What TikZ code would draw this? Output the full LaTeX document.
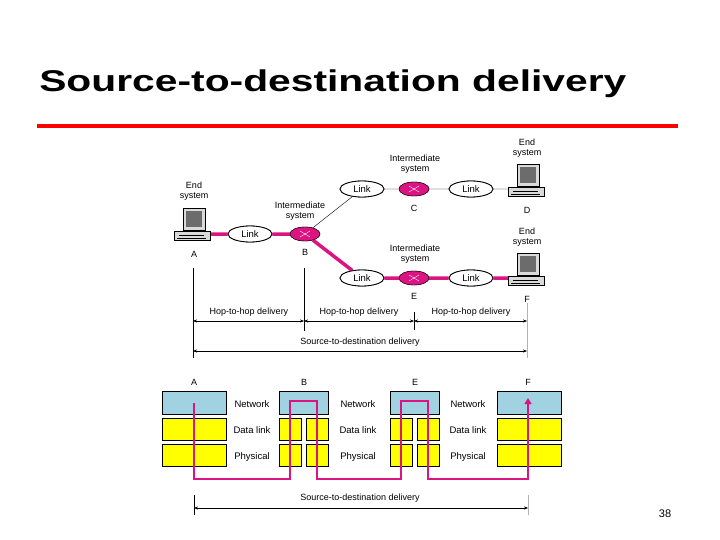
\documentclass[tikz,border=0pt]{standalone}
\usepackage{fontspec}
\setmainfont{Liberation Sans}
\usetikzlibrary{shapes.geometric,arrows.meta}
\definecolor{mag}{RGB}{220,20,130}
\definecolor{lblue}{RGB}{160,210,225}
\definecolor{yel}{RGB}{255,255,0}
\begin{document}
\begin{tikzpicture}[x=1pt,y=-1pt,
 lbl/.style={font=\fontsize{9}{10}\selectfont,align=center,inner sep=0pt},
 linkel/.style={ellipse,draw,thick,fill=white,minimum width=44,minimum height=16,inner sep=0pt,font=\fontsize{9.5}{10}\selectfont},
 router/.style={ellipse,draw,fill=mag,minimum width=30,minimum height=14,inner sep=0pt},
 thickm/.style={mag,line width=3.5pt},
 thinb/.style={black,thin},
 net/.style={draw,fill=lblue,inner sep=0pt},
 lay/.style={draw,fill=yel,inner sep=0pt},
 dim/.style={{Stealth[length=4pt]}-{Stealth[length=4pt]},thin},
 path/.style={mag,line width=2.2pt}]
\useasboundingbox (0,0) rectangle (720,540);
% title
\node[anchor=west,font=\bfseries\fontsize{30}{32}\selectfont,inner sep=0pt,xscale=1.36] (title) at (39,84) {Source-to-destination delivery};
\draw[red,line width=4.5pt] (37,126) -- (678,126);
\node[font=\fontsize{11}{12}\selectfont] (pg) at (665,514) {38};
\coordinate (A) at (205,234); \coordinate (D) at (520,189); \coordinate (F) at (520,278);
% links
\node[linkel] (L1) at (250,234) {Link};
\node[linkel] (L2) at (362,189) {Link};
\node[linkel] (L3) at (471,189) {Link};
\node[linkel] (L4) at (362,278) {Link};
\node[linkel] (L5) at (471,278) {Link};
\node[router] (B) at (305,234) {};
\node[router] (C) at (414,189) {};
\node[router] (E) at (414,278) {};
\draw[thickm] (A) -- (L1) -- (B) -- (L4) -- (E) -- (L5) -- (F);
\draw[thinb] (B) -- (L2) -- (C) -- (L3) -- (D);
\foreach \p/\n in {{(305,234)}/B,{(414,189)}/C,{(414,278)}/E}{\node[router] at \p {};\draw[white,thin] \p ++(-5,-3) -- ++(10,6) \p ++(-5,3) -- ++(10,-6);}
\node[linkel] at (250,234) {Link};\node[linkel] at (362,278) {Link};\node[linkel] at (471,278) {Link};
\node[linkel] at (362,189) {Link};\node[linkel] at (471,189) {Link};
% computers
\foreach \x/\y in {194/222,528/178,528/267}{
 \begin{scope}[shift={(\x,\y)}]
 \fill[gray!30,draw=black,thin] (-11,-14) rectangle (11,8);
 \fill[gray!85!black] (-8,-11) rectangle (8,5);
 \fill[gray!30,draw=black,thin] (-20,9) rectangle (16,18);
 \draw (-15,13) -- (10,13);
 \draw (-17,16) -- (12,16);
 \end{scope}}
\node[lbl] (lA) at (194,191) {End\\system};
\node[lbl] (lD) at (527,148) {End\\system};
\node[lbl] (lF) at (527,237) {End\\system};
\node[lbl] (nA) at (194,254) {A};
\node[lbl] (nD) at (527,210) {D};
\node[lbl] (nF) at (527,299) {F};
\node[lbl] (iB) at (300,211) {Intermediate\\system};
\node[lbl] (iC) at (415,164) {Intermediate\\system};
\node[lbl] (iE) at (415,254) {Intermediate\\system};
\node[lbl] (nB) at (305,252) {B};
\node[lbl] (nC) at (414,208) {C};
\node[lbl] (nE) at (414,296) {E};
% dimension lines
\coordinate (v1t) at (193,268); \coordinate (v1b) at (193,358);
\coordinate (v2t) at (304,268); \coordinate (v2b) at (304,331);
\coordinate (v3t) at (414,312); \coordinate (v3b) at (414,330);
\coordinate (v4t) at (527,303); \coordinate (v4b) at (527,358);
\draw[thin] (v1t) -- (v1b); \draw[thin] (v2t) -- (v2b); \draw[thin] (v3t) -- (v3b); \draw[gray!60] (v4t) -- (v4b);
\coordinate (h1) at (193,321); \coordinate (h2) at (304,321); \coordinate (h3) at (414,321); \coordinate (h4) at (527,321);
\draw[dim] (h1) -- (h2); \draw[dim] (h2) -- (h3); \draw[dim] (h3) -- (h4);
\node[lbl] (hh1) at (249,312) {Hop-to-hop delivery};
\node[lbl] (hh2) at (359,312) {Hop-to-hop delivery};
\node[lbl] (hh3) at (471,312) {Hop-to-hop delivery};
\coordinate (s1) at (193,351); \coordinate (s2) at (527,351);
\draw[dim] (s1) -- (s2);
\node[lbl] (sd1) at (360,342) {Source-to-destination delivery};
% bottom stacks
\foreach \n/\x in {A/194,B/304,E/415,F/528}{\node[lbl] at (\x,382) {\n};}
\foreach \x in {162,497}{
 \node[net,minimum width=64,minimum height=23,anchor=north west] at (\x,391) {};
 \node[lay,minimum width=64,minimum height=22,anchor=north west] at (\x,418) {};
 \node[lay,minimum width=64,minimum height=22,anchor=north west] at (\x,444) {};}
\foreach \x in {279,390}{
 \node[net,minimum width=49,minimum height=23,anchor=north west] at (\x,391) {};
 \foreach \dx in {0,27}{
 \node[lay,minimum width=22,minimum height=22,anchor=north west] at (\x+\dx,418) {};
 \node[lay,minimum width=22,minimum height=22,anchor=north west] at (\x+\dx,444) {};}}
\foreach \x in {252,358,468}{
 \node[lbl,font=\fontsize{9.5}{10}\selectfont] at (\x,404) {Network};
 \node[lbl,font=\fontsize{9.5}{10}\selectfont] at (\x,430) {Data link};
 \node[lbl,font=\fontsize{9.5}{10}\selectfont] at (\x,457) {Physical};}
\coordinate (pA) at (194,403); \coordinate (pF) at (528,398);
\draw[path,-{Triangle[length=6pt,width=7pt]}] (pA) -- (194,479) -- (290,479) -- (290,401) -- (317,401) -- (317,479) -- (401,479) -- (401,401) -- (428,401) -- (428,479) -- (528,479) -- (pF);
\draw[thin] (194,495) -- (194,515); \draw[gray!60] (528,495) -- (528,515);
\coordinate (t1) at (194,508); \coordinate (t2) at (528,508);
\draw[dim] (t1) -- (t2);
\node[lbl] (sd2) at (360,498) {Source-to-destination delivery};
\end{tikzpicture}
\end{document}
